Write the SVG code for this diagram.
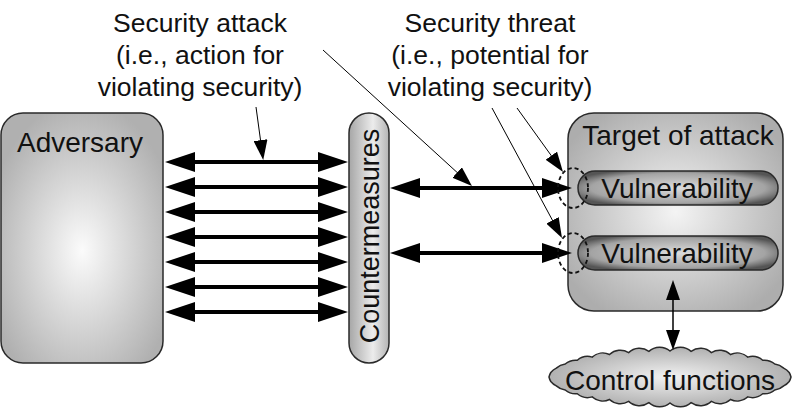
<svg xmlns="http://www.w3.org/2000/svg" width="797" height="414" viewBox="0 0 797 414">
<style>
text{font-family:"Liberation Sans",Arial,sans-serif;font-size:28px;fill:#111;text-anchor:middle}
.lbl{font-size:26.5px}
.box{stroke:#2a2a2a;stroke-width:1.5}
.thick{stroke:#000;stroke-width:4;fill:none}
.thin{stroke:#000;stroke-width:1;fill:none}
.mid{stroke:#000;stroke-width:1.5;fill:none}
.dash{fill:none;stroke:#111;stroke-width:1.8;stroke-dasharray:4 3}
</style>
<defs>
<radialGradient id="gBox" cx="0.5" cy="0.55" r="0.6">
<stop offset="0" stop-color="#fbfbfb"/>
<stop offset="1" stop-color="#b0b0b0"/>
</radialGradient>
<radialGradient id="gTgt" cx="0.5" cy="0.5" r="0.6">
<stop offset="0" stop-color="#f4f4f4"/>
<stop offset="1" stop-color="#adadad"/>
</radialGradient>
<linearGradient id="gCm" x1="0" y1="0" x2="1" y2="0">
<stop offset="0" stop-color="#a6a6a6"/>
<stop offset="0.6" stop-color="#ececec"/>
<stop offset="1" stop-color="#b4b4b4"/>
</linearGradient>
<radialGradient id="gVul" cx="0.5" cy="0.5" r="0.58">
<stop offset="0" stop-color="#dcdcdc"/>
<stop offset="0.75" stop-color="#a4a4a4"/>
<stop offset="1" stop-color="#555555"/>
</radialGradient>
<radialGradient id="gCloud" cx="0.5" cy="0.5" r="0.6">
<stop offset="0" stop-color="#f2f2f2"/>
<stop offset="1" stop-color="#a4a4a4"/>
</radialGradient>
<marker id="big" markerUnits="userSpaceOnUse" markerWidth="30" markerHeight="20" viewBox="0 0 30 20" refX="10" refY="10" orient="auto-start-reverse">
<path d="M0,0 L30,10 L0,20 z" fill="#000"/>
</marker>
<marker id="small" markerUnits="userSpaceOnUse" markerWidth="20" markerHeight="14" viewBox="0 0 20 14" refX="8" refY="7" orient="auto-start-reverse">
<path d="M0,0 L20,7 L0,14 z" fill="#000"/>
</marker>
</defs>

<g id="adversary">
<rect class="box" x="1" y="113" width="162" height="250" rx="22" fill="url(#gBox)"/>
<text x="80" y="152">Adversary</text>
</g>

<g id="countermeasures">
<rect class="box" x="349" y="113" width="40" height="250" rx="20" fill="url(#gCm)"/>
<text transform="translate(378.5,236) rotate(-90)" style="font-size:27px">Countermeasures</text>
</g>

<g id="target">
<rect class="box" x="568" y="113" width="215" height="198" rx="26" fill="url(#gTgt)"/>
<text x="678" y="145">Target of attack</text>
</g>

<g id="vulnerability1">
<rect class="box" x="578" y="171" width="200" height="34" rx="17" fill="url(#gVul)"/>
<text x="677" y="198">Vulnerability</text>
</g>

<g id="vulnerability2">
<rect class="box" x="578" y="236" width="200" height="34" rx="17" fill="url(#gVul)"/>
<text x="677" y="263">Vulnerability</text>
</g>

<g id="control">
<path class="box" fill="url(#gCloud)" d="M791,377 A16,16 0 0 1 789.2,381.5 A16,16 0 0 1 783.7,385.9 A16,16 0 0 1 774.8,390 A16,16 0 0 1 762.7,393.7 A16,16 0 0 1 747.8,396.9 A16,16 0 0 1 730.5,399.5 A16,16 0 0 1 711.4,401.4 A16,16 0 0 1 691.1,402.6 A16,16 0 0 1 670,403 A16,16 0 0 1 648.9,402.6 A16,16 0 0 1 628.6,401.4 A16,16 0 0 1 609.5,399.5 A16,16 0 0 1 592.2,396.9 A16,16 0 0 1 577.3,393.7 A16,16 0 0 1 565.2,390 A16,16 0 0 1 556.3,385.9 A16,16 0 0 1 550.8,381.5 A16,16 0 0 1 549,377 A16,16 0 0 1 550.8,372.5 A16,16 0 0 1 556.3,368.1 A16,16 0 0 1 565.2,364 A16,16 0 0 1 577.3,360.3 A16,16 0 0 1 592.2,357.1 A16,16 0 0 1 609.5,354.5 A16,16 0 0 1 628.6,352.6 A16,16 0 0 1 648.9,351.4 A16,16 0 0 1 670,351 A16,16 0 0 1 691.1,351.4 A16,16 0 0 1 711.4,352.6 A16,16 0 0 1 730.5,354.5 A16,16 0 0 1 747.8,357.1 A16,16 0 0 1 762.7,360.3 A16,16 0 0 1 774.8,364 A16,16 0 0 1 783.7,368.1 A16,16 0 0 1 789.2,372.5 A16,16 0 0 1 791,377 Z"/>
<text x="670" y="390">Control functions</text>
</g>

<g id="labels">
<text class="lbl" x="200" y="32">Security attack</text>
<text class="lbl" x="200" y="64">(i.e., action for</text>
<text class="lbl" x="200" y="96">violating security)</text>
<text class="lbl" x="490" y="32">Security threat</text>
<text class="lbl" x="490" y="64">(i.e., potential for</text>
<text class="lbl" x="490" y="96">violating security)</text>
</g>

<g id="connectors">
<line class="thick" x1="185" y1="162" x2="328" y2="162" marker-start="url(#big)" marker-end="url(#big)"/>
<line class="thick" x1="185" y1="187" x2="328" y2="187" marker-start="url(#big)" marker-end="url(#big)"/>
<line class="thick" x1="185" y1="212" x2="328" y2="212" marker-start="url(#big)" marker-end="url(#big)"/>
<line class="thick" x1="185" y1="237" x2="328" y2="237" marker-start="url(#big)" marker-end="url(#big)"/>
<line class="thick" x1="185" y1="262" x2="328" y2="262" marker-start="url(#big)" marker-end="url(#big)"/>
<line class="thick" x1="185" y1="287" x2="328" y2="287" marker-start="url(#big)" marker-end="url(#big)"/>
<line class="thick" x1="185" y1="312" x2="328" y2="312" marker-start="url(#big)" marker-end="url(#big)"/>
<line class="thick" x1="410" y1="188" x2="552" y2="188" marker-start="url(#big)" marker-end="url(#big)"/>
<line class="thick" x1="410" y1="253" x2="552" y2="253" marker-start="url(#big)" marker-end="url(#big)"/>
<line class="mid" x1="673" y1="292" x2="673" y2="338" marker-start="url(#small)" marker-end="url(#small)"/>
<line class="thin" x1="256" y1="107" x2="261.6" y2="148.1" marker-end="url(#small)"/>
<line class="thin" x1="323" y1="50" x2="463.1" y2="177.9" marker-end="url(#small)"/>
<line class="thin" x1="517" y1="108" x2="556" y2="162.2" marker-end="url(#small)"/>
<line class="thin" x1="492" y1="108" x2="556.3" y2="227.4" marker-end="url(#small)"/>
<ellipse class="dash" cx="573" cy="188" rx="15" ry="20"/>
<ellipse class="dash" cx="573" cy="253" rx="15" ry="20"/>
</g>
</svg>
